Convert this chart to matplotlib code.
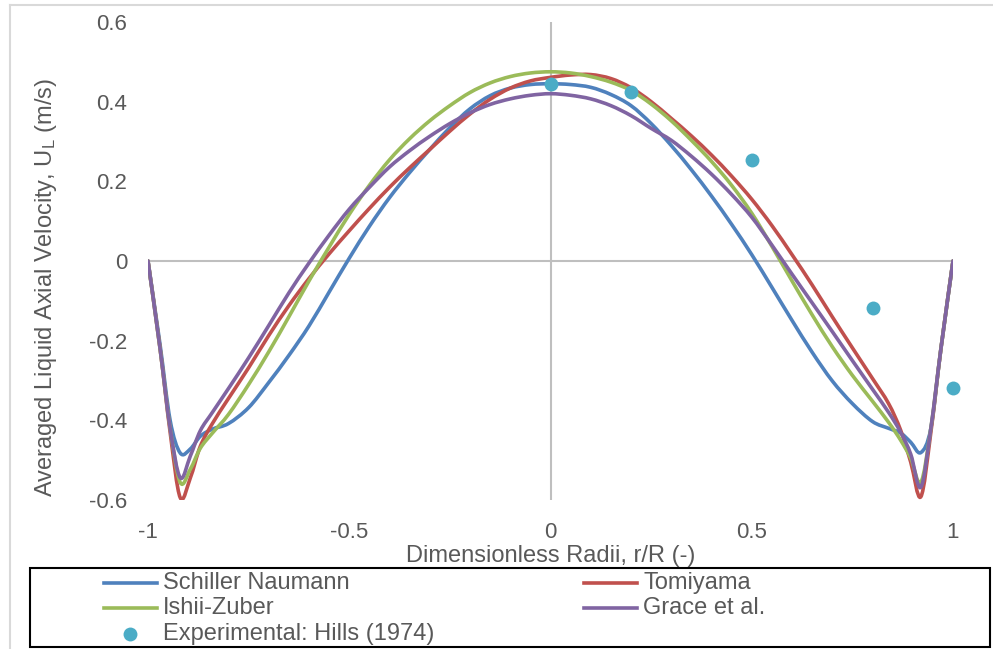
import matplotlib
matplotlib.use("Agg")
import matplotlib.pyplot as plt
from matplotlib.lines import Line2D
from matplotlib.patches import Rectangle, PathPatch
from matplotlib.path import Path

plt.rcParams['font.family'] = ['Liberation Sans', 'DejaVu Sans']
plt.rcParams['mathtext.default'] = 'regular'

# radial positions r/R
r = [-1, -0.97, -0.945, -0.92, -0.895, -0.87, -0.84, -0.8, -0.75, -0.7, -0.65, -0.6,
     -0.55, -0.5, -0.45, -0.4, -0.35, -0.3, -0.25, -0.2, -0.15, -0.1, -0.05, 0,
     0.05, 0.1, 0.15, 0.2, 0.25, 0.3, 0.35, 0.4, 0.45, 0.5, 0.55, 0.6, 0.65, 0.7,
     0.75, 0.8, 0.84, 0.87, 0.895, 0.92, 0.945, 0.97, 1]

schiller = [0, -0.21, -0.40, -0.482, -0.472, -0.44, -0.422, -0.408, -0.368, -0.305, -0.237, -0.163,
            -0.078, 0.007, 0.087, 0.159, 0.222, 0.28, 0.335, 0.382, 0.415, 0.434, 0.443, 0.445,
            0.443, 0.436, 0.418, 0.39, 0.345, 0.29, 0.229, 0.163, 0.092, 0.016, -0.066, -0.149, -0.229, -0.301,
            -0.358, -0.403, -0.42, -0.432, -0.455, -0.481, -0.42, -0.22, 0]

tomiyama = [0, -0.22, -0.43, -0.594, -0.545, -0.465, -0.408, -0.345, -0.268, -0.187, -0.112, -0.044,
            0.018, 0.076, 0.132, 0.185, 0.234, 0.28, 0.326, 0.369, 0.406, 0.434, 0.452, 0.461,
            0.467, 0.468, 0.458, 0.435, 0.40, 0.358, 0.314, 0.266, 0.213, 0.155, 0.089, 0.016, -0.06, -0.14,
            -0.218, -0.295, -0.358, -0.425, -0.505, -0.592, -0.43, -0.22, 0]

ishii = [0, -0.22, -0.42, -0.556, -0.523, -0.47, -0.432, -0.385, -0.31, -0.228, -0.14, -0.05,
         0.035, 0.117, 0.19, 0.254, 0.307, 0.352, 0.39, 0.423, 0.447, 0.463, 0.472, 0.475,
         0.472, 0.463, 0.449, 0.428, 0.394, 0.352, 0.303, 0.25, 0.19, 0.12, 0.037, -0.05, -0.135, -0.215,
         -0.287, -0.352, -0.405, -0.45, -0.495, -0.556, -0.42, -0.22, 0]

grace = [0, -0.22, -0.42, -0.544, -0.49, -0.426, -0.38, -0.32, -0.243, -0.162, -0.08, -0.005,
         0.065, 0.13, 0.185, 0.236, 0.277, 0.313, 0.345, 0.372, 0.393, 0.407, 0.416, 0.42,
         0.416, 0.407, 0.39, 0.365, 0.333, 0.303, 0.263, 0.218, 0.167, 0.11, 0.04, -0.033, -0.105, -0.177,
         -0.25, -0.322, -0.38, -0.43, -0.485, -0.568, -0.42, -0.22, 0]

exp_r = [0, 0.2, 0.5, 0.8, 1.0]
exp_u = [0.445, 0.425, 0.254, -0.118, -0.319]

names = ['Schiller Naumann', 'Tomiyama', 'Ishii-Zuber', 'Grace et al.']
colors = ['#4F81BD', '#C0504D', '#9BBB59', '#8064A2']
exp_name = 'Experimental: Hills (1974)'
exp_color = '#4BACC6'

xticks = [-1, -0.5, 0, 0.5, 1]
xticklabels = ['-1', '-0.5', '0', '0.5', '1']
yticks = [-0.6, -0.4, -0.2, 0, 0.2, 0.4, 0.6]
yticklabels = ['-0.6', '-0.4', '-0.2', '0', '0.2', '0.4', '0.6']


def smooth_path(xs, ys):
    # Excel-style smoothed line: Bezier segments through the data points
    pts = list(zip(xs, ys))
    verts = [pts[0]]
    codes = [Path.MOVETO]
    n = len(pts)
    for i in range(n - 1):
        p0 = pts[i - 1] if i > 0 else pts[i]
        p1 = pts[i]
        p2 = pts[i + 1]
        p3 = pts[i + 2] if i + 2 < n else pts[i + 1]
        c1 = (p1[0] + (p2[0] - p0[0]) / 6, p1[1] + (p2[1] - p0[1]) / 6)
        c2 = (p2[0] - (p3[0] - p1[0]) / 6, p2[1] - (p3[1] - p1[1]) / 6)
        verts += [c1, c2, p2]
        codes += [Path.CURVE4] * 3
    return Path(verts, codes)


W, H = 993, 649
fig = plt.figure(figsize=(W / 100, H / 100), dpi=100)
ax = fig.add_axes([148 / W, 1 - 500 / H, (953 - 148) / W, (500 - 22) / H])

grey = '#595959'
ax.axhline(0, color='#BFBFBF', lw=1.5, zorder=1)
ax.axvline(0, color='#BFBFBF', lw=1.5, zorder=1)

for ys, name, c in zip([schiller, tomiyama, ishii, grace], names, colors):
    ax.add_patch(PathPatch(smooth_path(r, ys), fill=False, ec=c, lw=2.6,
                           capstyle='round', joinstyle='round', zorder=3))
ax.plot(exp_r, exp_u, 'o', color=exp_color, ms=10, mec='none', label=exp_name,
        zorder=4, clip_on=False)

ax.set_xlim(-1, 1)
ax.set_ylim(-0.6, 0.6)
for s in ax.spines.values():
    s.set_visible(False)
ax.set_xticks(xticks)
ax.set_xticklabels(xticklabels)
ax.set_yticks(yticks)
ax.set_yticklabels(yticklabels)
ax.tick_params(axis='both', length=0, labelsize=16, labelcolor=grey)
ax.tick_params(axis='x', pad=16)
ax.tick_params(axis='y', pad=15)

fig.text(46 / W, 1 - 287 / H, 'Averaged Liquid Axial Velocity, U$_L$ (m/s)', rotation=90,
         ha='center', va='center', fontsize=17, color=grey)
fig.text(551 / W, 1 - 556 / H, 'Dimensionless Radii, r/R (-)', ha='center', va='center',
         fontsize=17, color=grey)

# chart area border (light grey, partly cropped)
fig.add_artist(Line2D([10 / W, 10 / W], [0, 1 - 5 / H], transform=fig.transFigure, color='#D9D9D9', lw=1.5))
fig.add_artist(Line2D([10 / W, 1], [1 - 5 / H, 1 - 5 / H], transform=fig.transFigure, color='#D9D9D9', lw=1.5))

# legend box
fig.add_artist(Rectangle((30 / W, 1 - 647 / H), 960 / W, 79 / H, transform=fig.transFigure,
                         fill=False, ec='black', lw=1.5))
entries = [(names[0], colors[0], 'line', 104, 583), (names[1], colors[1], 'line', 584, 583),
           (names[2], colors[2], 'line', 104, 608), (names[3], colors[3], 'line', 584, 608),
           (exp_name, exp_color, 'dot', 104, 634)]
for name, c, kind, x0, y0 in entries:
    yf = 1 - y0 / H
    if kind == 'line':
        fig.add_artist(Line2D([x0 / W, (x0 + 53) / W], [yf, yf], transform=fig.transFigure,
                              color=c, lw=2.6))
    else:
        fig.add_artist(Line2D([(x0 + 26) / W], [yf], transform=fig.transFigure, marker='o',
                              ms=10, mec='none', color=c))
    fig.text((x0 + 59) / W, yf, name, ha='left', va='center', fontsize=17, color=grey)

fig.savefig('out.png', dpi=100)
